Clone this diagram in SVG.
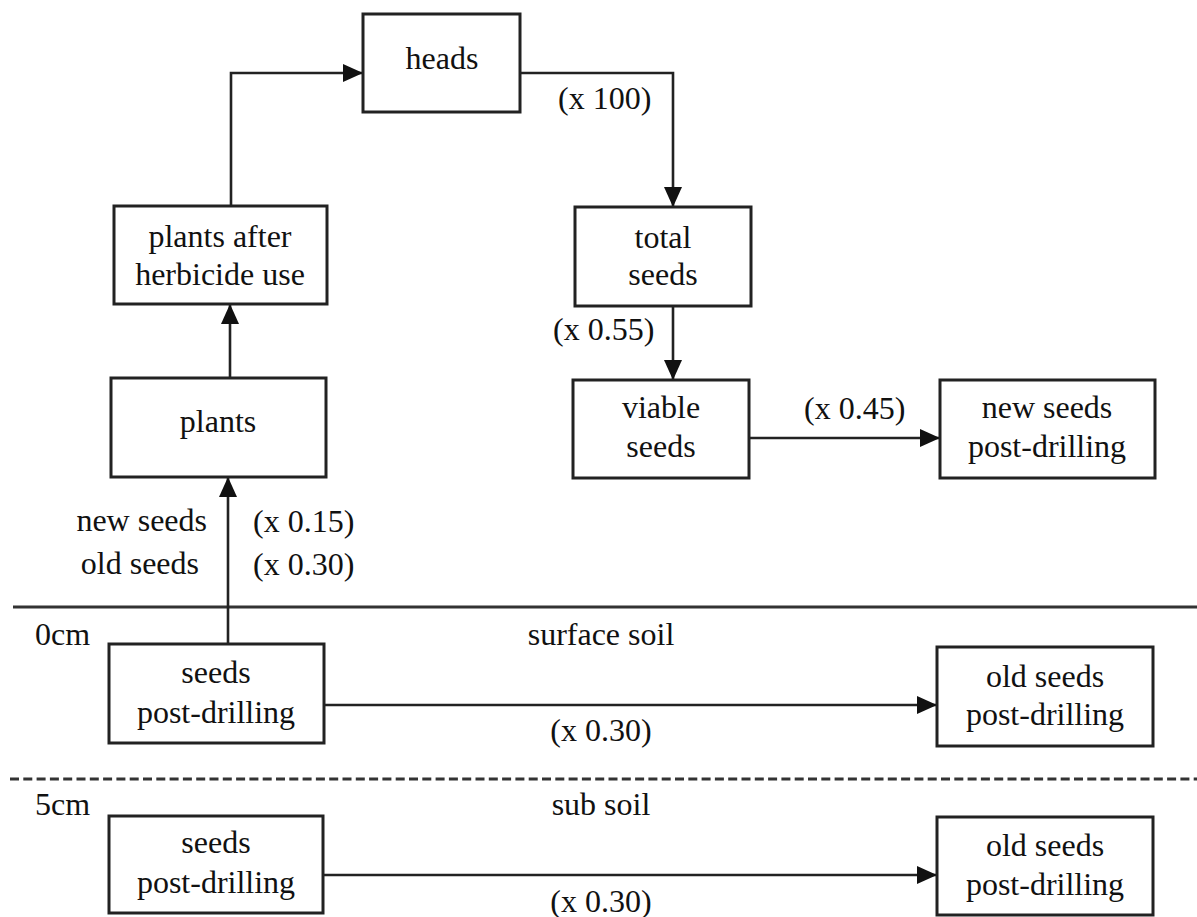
<svg xmlns="http://www.w3.org/2000/svg" width="1197" height="917" viewBox="0 0 1197 917">
<style>
.box{fill:#fff;stroke:#222;stroke-width:3}
.t{font-family:"Liberation Serif","Times New Roman",serif;font-size:32px;fill:#111}
.c{text-anchor:middle}
.e{text-anchor:end}
.ln{fill:none;stroke:#222;stroke-width:2.6}
.arr{marker-end:url(#ah)}
.soil{stroke:#333;stroke-width:3;fill:none}
</style>
<defs>
<marker id="ah" viewBox="0 0 20 18" refX="20" refY="9" markerWidth="20" markerHeight="18" markerUnits="userSpaceOnUse" orient="auto">
<path d="M0,0 L20,9 L0,18 z" fill="#111"/>
</marker>
</defs>
<rect width="1197" height="917" fill="#fff"/>
<g id="layers">
<line class="soil" x1="13" y1="607" x2="1197" y2="607"/>
<line class="soil" x1="10" y1="779" x2="1197" y2="779" stroke-dasharray="9 4.3"/>
<text class="t" x="35" y="645">0cm</text>
<text class="t c" x="601" y="645">surface soil</text>
<text class="t" x="35" y="815">5cm</text>
<text class="t c" x="601" y="815">sub soil</text>
</g>
<g id="connectors">
<polyline class="ln arr" points="231,206 231,73 363,73"/>
<polyline class="ln arr" points="520,73 673,73 673,207"/>
<line class="ln arr" x1="673" y1="306" x2="673" y2="380"/>
<line class="ln arr" x1="749" y1="438" x2="940" y2="438"/>
<line class="ln arr" x1="230" y1="378" x2="230" y2="304"/>
<line class="ln arr" x1="228" y1="644" x2="228" y2="477"/>
<line class="ln arr" x1="324" y1="705" x2="937" y2="705"/>
<line class="ln arr" x1="323" y1="875" x2="937" y2="875"/>
<text class="t" x="558" y="109">(x 100)</text>
<text class="t" x="553" y="340">(x 0.55)</text>
<text class="t" x="804" y="419">(x 0.45)</text>
<text class="t e" x="207" y="531">new seeds</text>
<text class="t" x="253" y="532">(x 0.15)</text>
<text class="t e" x="199" y="574">old seeds</text>
<text class="t" x="253" y="575">(x 0.30)</text>
<text class="t c" x="601" y="741">(x 0.30)</text>
<text class="t c" x="601" y="912">(x 0.30)</text>
</g>
<g id="heads">
<rect class="box" x="363" y="14" width="157" height="98"/>
<text class="t c" x="442" y="69">heads</text>
</g>
<g id="plants-after">
<rect class="box" x="114" y="206" width="213" height="98"/>
<text class="t c" x="220" y="247">plants after</text>
<text class="t c" x="220" y="285">herbicide use</text>
</g>
<g id="total-seeds">
<rect class="box" x="575" y="207" width="176" height="99"/>
<text class="t c" x="663" y="248">total</text>
<text class="t c" x="663" y="285">seeds</text>
</g>
<g id="plants">
<rect class="box" x="111" y="378" width="215" height="99"/>
<text class="t c" x="218" y="432">plants</text>
</g>
<g id="viable-seeds">
<rect class="box" x="573" y="380" width="176" height="98"/>
<text class="t c" x="661" y="418">viable</text>
<text class="t c" x="661" y="457">seeds</text>
</g>
<g id="new-seeds">
<rect class="box" x="940" y="380" width="215" height="98"/>
<text class="t c" x="1047" y="418">new seeds</text>
<text class="t c" x="1047" y="457">post-drilling</text>
</g>
<g id="seeds-surface">
<rect class="box" x="109" y="644" width="215" height="99"/>
<text class="t c" x="216" y="683">seeds</text>
<text class="t c" x="216" y="723">post-drilling</text>
</g>
<g id="old-seeds-surface">
<rect class="box" x="937" y="647" width="216" height="99"/>
<text class="t c" x="1045" y="687">old seeds</text>
<text class="t c" x="1045" y="725">post-drilling</text>
</g>
<g id="seeds-sub">
<rect class="box" x="109" y="816" width="214" height="97"/>
<text class="t c" x="216" y="853">seeds</text>
<text class="t c" x="216" y="893">post-drilling</text>
</g>
<g id="old-seeds-sub">
<rect class="box" x="937" y="817" width="216" height="98"/>
<text class="t c" x="1045" y="856">old seeds</text>
<text class="t c" x="1045" y="895">post-drilling</text>
</g>
</svg>
